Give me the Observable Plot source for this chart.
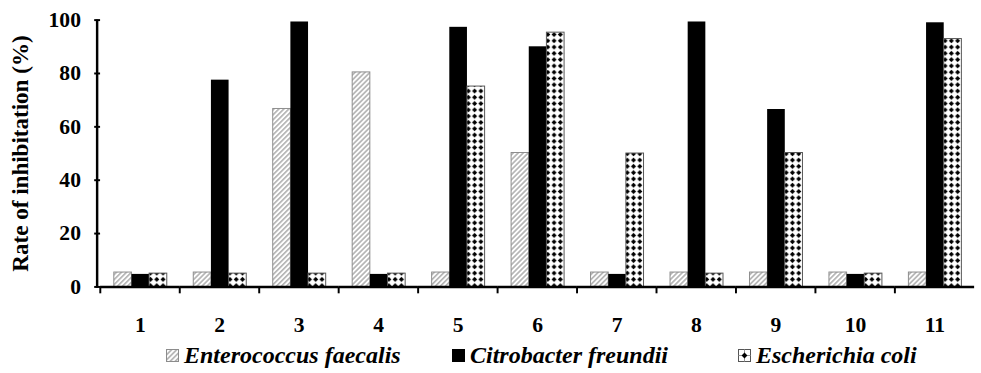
<!DOCTYPE html>
<html>
<head>
<meta charset="utf-8">
<script src="https://cdn.jsdelivr.net/npm/d3@7"></script>
<script src="https://cdn.jsdelivr.net/npm/@observablehq/plot@0.6"></script>
<style>
  body { margin: 0; background: #fff; }
  #wrap { width: 981px; height: 373px; overflow: hidden; position: relative; background: #fff; }
  #chart { position: absolute; left: 0; top: 0; }
  #legend { position: absolute; left: 0; top: 339px; width: 981px; height: 33px;
            font-family: "Liberation Serif", "Times New Roman", Times, "DejaVu Serif", serif; font-weight: bold; font-style: italic; font-size: 24px; color: #000; }
  .item { position: absolute; top: 0; height: 33px; display: flex; align-items: center; white-space: nowrap; }
  .item svg { margin-right: 5px; }
</style>
</head>
<body>
<svg width="0" height="0" style="position:absolute">
  <defs>
    <pattern id="hatch" patternUnits="userSpaceOnUse" width="3.6" height="3.6" patternTransform="rotate(45)">
      <rect width="3.6" height="3.6" fill="#ffffff"></rect>
      <rect width="1.7" height="3.6" fill="#b4b4b4"></rect>
    </pattern>
    <pattern id="dots" patternUnits="userSpaceOnUse" width="6.4" height="6.4">
      <rect width="6.4" height="6.4" fill="#ffffff"></rect>
      <path d="M3.2,0.6 L5.8,3.2 L3.2,5.8 L0.6,3.2 Z" fill="#000000"></path>
    </pattern>
  </defs>
</svg>
<div id="wrap">
  <div id="chart"></div>
  <div id="legend"></div>
</div>
<script>
const categories = ["1", "2", "3", "4", "5", "6", "7", "8", "9", "10", "11"];
const seriesNames = ["Enterococcus faecalis", "Citrobacter freundii", "Escherichia coli"];
const enterococcus = [5.4, 5.4, 66.7, 80.4, 5.4, 50.2, 5.4, 5.4, 5.4, 5.4, 5.4];
const citrobacter  = [4.7, 77.5, 99.3, 4.7, 97.3, 90.0, 4.7, 99.3, 66.5, 4.7, 99.0];
const escherichia  = [5.0, 5.0, 5.0, 5.0, 75.1, 95.3, 50.0, 5.0, 50.2, 5.0, 92.9];
const yTicks = [0, 20, 40, 60, 80, 100];
const yLabel = "Rate of inhibitation (%)";

const seriesValues = [enterococcus, citrobacter, escherichia];
const rows = categories.flatMap((c, i) => seriesNames.map((s, k) => ({cat: c, s, v: seriesValues[k][i]})));
const bySeries = k => rows.filter(d => d.s === seriesNames[k]);

const FONT = "'Liberation Serif', 'Times New Roman', Times, 'DejaVu Serif', serif";
const W = 1000, ML = 99, MR = 4;
const step = (W - ML - MR) / categories.length;

const plot = Plot.plot({
  width: W,
  height: 373,
  marginLeft: ML,
  marginRight: MR,
  marginTop: 20,
  marginBottom: 81,
  style: {fontFamily: FONT, fontWeight: "bold", fontSize: "21px", background: "transparent", color: "#000"},
  fx: {domain: categories, padding: 0, label: null, axis: null},
  x: {domain: seriesNames, paddingInner: 0, paddingOuter: 0.7, axis: null},
  y: {domain: [0, 100], axis: null},
  marks: [
    Plot.barY(bySeries(0), {fx: "cat", x: "s", y: "v", fill: "url(#hatch)", stroke: "#8c8c8c", strokeWidth: 1}),
    Plot.barY(bySeries(1), {fx: "cat", x: "s", y: "v", fill: "#000"}),
    Plot.barY(bySeries(2), {fx: "cat", x: "s", y: "v", fill: "url(#dots)", stroke: "#555", strokeWidth: 1}),
    Plot.ruleY([0], {strokeWidth: 2.5}),
    Plot.axisY({ticks: yTicks, tickSize: 6, tickPadding: 14, strokeWidth: 2, label: null, fontSize: 22}),
    Plot.axisY({ticks: [], label: yLabel, labelAnchor: "center", labelArrow: "none", labelOffset: 91, fontSize: 23.5}),
    Plot.axisFx({anchor: "bottom", tickSize: 0, tickPadding: 30, label: null, fontSize: 22}),
    Plot.axisFx({anchor: "bottom", tickSize: 7, tickFormat: () => "", dx: -step / 2, strokeWidth: 2, label: null})
  ]
});

// y-axis line drawn from the plot's own scales
const ys = plot.scale("y"), fxs = plot.scale("fx");
d3.select(plot).append("line")
  .attr("x1", fxs.range[0]).attr("x2", fxs.range[0])
  .attr("y1", ys.apply(0) + 1.25).attr("y2", ys.apply(100))
  .attr("stroke", "#000").attr("stroke-width", 2.5);

document.getElementById("chart").appendChild(plot);

const legend = document.getElementById("legend");
const swatches = [
  `<rect x="0.5" y="0.5" width="12" height="12" fill="url(#hatch)" stroke="#8c8c8c"></rect>`,
  `<rect x="0" y="0" width="13" height="13" fill="#000"></rect>`,
  `<rect x="0.5" y="0.5" width="12" height="12" fill="#fff" stroke="#555"></rect><path d="M6.5,0.5V12.5M0.5,6.5H12.5" stroke="#999" stroke-width="1"></path><path d="M6.5,3.6L9.4,6.5L6.5,9.4L3.6,6.5Z" fill="#000"></path>`
];
const lefts = [166, 452, 738];
seriesNames.forEach((name, k) => {
  const item = document.createElement("div");
  item.className = "item";
  item.style.left = lefts[k] + "px";
  item.innerHTML = `<svg width="13" height="13">${swatches[k]}</svg><span>${name}</span>`;
  legend.appendChild(item);
});
</script>
</body>
</html>
